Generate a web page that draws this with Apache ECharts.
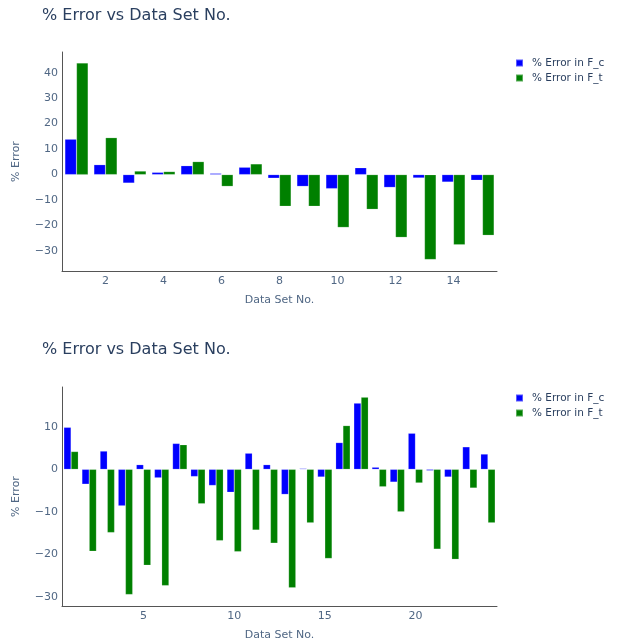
<!DOCTYPE html>
<html>
<head>
<meta charset="utf-8">
<script src="https://cdn.jsdelivr.net/npm/echarts@6/dist/echarts.min.js"></script>
<style>
  html, body { margin: 0; padding: 0; background: #fff; }
  #chart { width: 617px; height: 643px; }
</style>
</head>
<body>
<div id="chart"></div>
<script>
// Upper panel: 15 data sets
const setsA = ['1','2','3','4','5','6','7','8','9','10','11','12','13','14','15'];
const errFcA = [13.9, 3.9, -3.3, 0.9, 3.5, 0.5, 2.9, -1.4, -4.6, -5.5, 2.7, -5.0, -1.3, -2.9, -2.2];
const errFtA = [43.8, 14.5, 1.4, 1.2, 5.1, -4.6, 4.2, -12.4, -12.4, -20.7, -13.6, -24.6, -33.3, -27.5, -23.8];

// Lower panel: 24 data sets
const setsB = ['1','2','3','4','5','6','7','8','9','10','11','12','13','14','15','16','17','18','19','20','21','22','23','24'];
const errFcB = [9.9, -3.5, 4.3, -8.6, 1.1, -2.0, 6.1, -1.7, -3.8, -5.4, 3.8, 1.1, -5.9, 0.2, -1.8, 6.3, 15.6, 0.5, -3.0, 8.5, -0.3, -1.8, 5.3, 3.6];
const errFtB = [4.2, -19.3, -14.9, -29.5, -22.6, -27.4, 5.8, -8.1, -16.8, -19.4, -14.3, -17.4, -27.9, -12.6, -21.0, 10.3, 17.0, -4.1, -10.0, -3.2, -18.8, -21.2, -4.4, -12.6];

const titleText = '% Error vs Data Set No.';
const nameFc = '% Error in F_c';
const nameFt = '% Error in F_t';
const FONT = 'DejaVu Sans, Verdana, sans-serif';
const TXT = '#2a3f5f';
const TICK = '#506784';
const AXIS = '#555';

// only multiples of 10 get a label; negatives use a true minus sign
const fmtY = v => {
  if (Math.abs(v - Math.round(v / 10) * 10) > 1e-6) return '';
  const r = Math.round(v);
  return r < 0 ? '\u2212' + Math.abs(r) : String(r);
};

function xAxis(gridIndex, cats, step) {
  return {
    type: 'category', gridIndex, data: cats,
    name: 'Data Set No.', nameLocation: 'middle', nameGap: 24,
    nameTextStyle: { fontFamily: FONT, fontSize: 11, color: TICK },
    axisLine: { onZero: false, lineStyle: { color: AXIS, width: 1 } },
    axisTick: { show: false },
    axisLabel: {
      fontFamily: FONT, fontSize: 11, color: TICK, margin: 5,
      interval: (i, v) => Number(v) % step === 0
    },
    splitLine: { show: false }
  };
}
function yAxis(gridIndex, min, max, split) {
  return {
    type: 'value', gridIndex, min, max, splitNumber: split,
    name: '% Error', nameLocation: 'middle', nameGap: 40,
    nameTextStyle: { fontFamily: FONT, fontSize: 11, color: TICK },
    axisLine: { show: true, onZero: false, lineStyle: { color: AXIS, width: 1 } },
    axisTick: { show: false },
    axisLabel: { fontFamily: FONT, fontSize: 11, color: TICK, margin: 4, formatter: fmtY, showMinLabel: false, showMaxLabel: false },
    splitLine: { show: false }
  };
}
function barSeries(name, xi, data, color) {
  return {
    type: 'bar', name, xAxisIndex: xi, yAxisIndex: xi, data,
    barGap: '0%', barCategoryGap: '20%',
    itemStyle: { color, borderColor: 'rgba(255,255,255,0.35)', borderWidth: 0.5 },
    emphasis: { disabled: true }
  };
}
function legend(top) {
  return {
    orient: 'vertical', left: 510, top, itemWidth: 7, itemHeight: 7, itemGap: 4,
    icon: 'rect', data: [nameFc, nameFt],
    textStyle: { fontFamily: FONT, fontSize: 10.5, color: TXT, padding: [0, 0, 0, 4] }
  };
}

const chart = echarts.init(document.getElementById('chart'), null, { renderer: 'canvas' });
chart.setOption({
  animation: false,
  backgroundColor: '#fff',
  title: [
    { text: titleText, left: 37, top: 3, textStyle: { fontFamily: FONT, fontSize: 16, fontWeight: 'normal', color: TXT } },
    { text: titleText, left: 37, top: 337, textStyle: { fontFamily: FONT, fontSize: 16, fontWeight: 'normal', color: TXT } }
  ],
  legend: [legend(52.5), legend(387.5)],
  grid: [
    { left: 62, top: 52, width: 435, height: 219, containLabel: false },
    { left: 62, top: 387, width: 435, height: 219, containLabel: false }
  ],
  xAxis: [xAxis(0, setsA, 2), xAxis(1, setsB, 5)],
  yAxis: [yAxis(0, -37.8, 48.1, 8), yAxis(1, -32.2, 19.4, 5)],
  series: [
    barSeries(nameFc, 0, errFcA, '#0000ff'),
    barSeries(nameFt, 0, errFtA, '#008000'),
    barSeries(nameFc, 1, errFcB, '#0000ff'),
    barSeries(nameFt, 1, errFtB, '#008000')
  ]
});
</script>
</body>
</html>
